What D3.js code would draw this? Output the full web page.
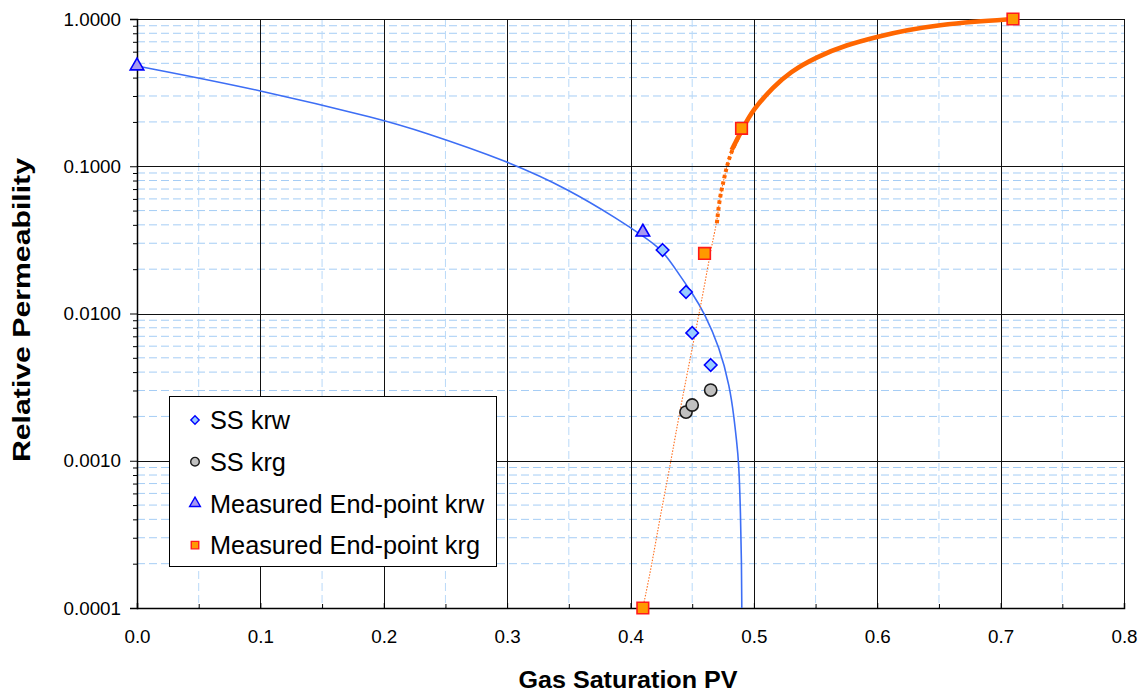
<!DOCTYPE html>
<html>
<head>
<meta charset="utf-8">
<script src="https://cdn.jsdelivr.net/npm/d3@7"></script>
<style>
  html, body { margin: 0; padding: 0; background: #fff; }
  svg { display: block; font-family: "Liberation Sans", Arial, sans-serif; }
</style>
</head>
<body>
<svg id="chart" width="1141" height="692"></svg>
<script>
// Steady-state relative permeability data (gas saturation as fraction of PV)
const ssKrwSg = [0.426, 0.445, 0.450, 0.465];
const ssKrw   = [0.0270, 0.0140, 0.00738, 0.00447];

const ssKrgSg = [0.445, 0.450, 0.465];
const ssKrg   = [0.00214, 0.00239, 0.00302];

const epKrwSg = [0.000, 0.410];
const epKrw   = [0.480, 0.0357];

const epKrgSg = [0.410, 0.460, 0.490, 0.710];
const epKrg   = [0.0001, 0.0256, 0.181, 1.0];

// Fitted water curve
const krwFitSg = [0.000, 0.100, 0.200, 0.229, 0.300, 0.350, 0.391, 0.410, 0.426, 0.437, 0.451, 0.460, 0.472, 0.4805, 0.484, 0.4859, 0.4878, 0.4892, 0.4900, 0.4902];
const krwFit   = [0.480, 0.330, 0.206, 0.174, 0.109, 0.0697, 0.0431, 0.0337, 0.0270, 0.0197, 0.0134, 0.0100, 0.00595, 0.00318, 0.00194, 0.00138, 0.000986, 0.00044, 0.000202, 0.0001];

// Fitted gas curve
const krgFitSg = [0.410, 0.417, 0.424, 0.432, 0.441, 0.459, 0.466, 0.470, 0.472, 0.475, 0.478, 0.482, 0.491, 0.499, 0.516, 0.529, 0.551, 0.575, 0.600, 0.624, 0.651, 0.678, 0.710];
const krgFit   = [0.0001, 0.000191, 0.000417, 0.000911, 0.00245, 0.0137, 0.030, 0.041, 0.059, 0.0766, 0.0993, 0.129, 0.181, 0.241, 0.347, 0.435, 0.555, 0.666, 0.758, 0.842, 0.911, 0.959, 1.0];

const xTicks = [0, 0.1, 0.2, 0.3, 0.4, 0.5, 0.6, 0.7, 0.8];
const yTicks = [1, 0.1, 0.01, 0.001, 0.0001];
const yTickLabels = ["1.0000", "0.1000", "0.0100", "0.0010", "0.0001"];

const legendLabels = ["SS krw", "SS krg", "Measured End-point krw", "Measured End-point krg"];

const svg = d3.select("#chart");
const plot = { left: 137, right: 1124, top: 19, bottom: 608 };

const x = d3.scaleLinear().domain([0, 0.8]).range([plot.left, plot.right]);
const y = d3.scaleLog().domain([0.0001, 1]).range([plot.bottom, plot.top]);

const zip = (a, b) => a.map((v, i) => [v, b[i]]);

// Minor values
const xMinor = d3.range(0.05, 0.8, 0.1);
const yMinor = [];
[0.0001, 0.001, 0.01, 0.1].forEach(d => { for (let k = 2; k <= 9; k++) yMinor.push(d * k); });

const grid = svg.append("g");
// minor dashed grid
grid.selectAll("line.hmin").data(yMinor).join("line")
  .attr("x1", plot.left).attr("x2", plot.right)
  .attr("y1", d => y(d)).attr("y2", d => y(d))
  .attr("stroke", "#a5cdf5").attr("stroke-width", 1).attr("stroke-dasharray", "8,4");
grid.selectAll("line.vmin").data(xMinor).join("line")
  .attr("x1", d => x(d)).attr("x2", d => x(d))
  .attr("y1", plot.top).attr("y2", plot.bottom)
  .attr("stroke", "#b9d9f8").attr("stroke-width", 1).attr("stroke-dasharray", "8,4");
// major grid
grid.selectAll("line.hmaj").data(yTicks.slice(0, 4)).join("line")
  .attr("x1", plot.left).attr("x2", plot.right)
  .attr("y1", d => Math.round(y(d)) + 0.5).attr("y2", d => Math.round(y(d)) + 0.5)
  .attr("stroke", "#111").attr("stroke-width", 1);
grid.selectAll("line.vmaj").data(xTicks.slice(1)).join("line")
  .attr("x1", d => Math.round(x(d)) + 0.5).attr("x2", d => Math.round(x(d)) + 0.5)
  .attr("y1", plot.top).attr("y2", plot.bottom)
  .attr("stroke", "#111").attr("stroke-width", 1);

// Axes
const yAxis = d3.axisLeft(y).tickValues(yTicks).tickSize(7)
  .tickFormat((d, i) => yTickLabels[i]).tickPadding(9);
const gy = svg.append("g").attr("transform", `translate(${plot.left},0)`).call(yAxis);
gy.select(".domain").attr("stroke", "#000").attr("stroke-width", 1.5);
gy.selectAll(".tick line").attr("stroke", "#000");
gy.selectAll(".tick text").attr("font-size", 18.8).attr("font-family", "Liberation Sans, Arial, sans-serif").attr("fill", "#000");
svg.append("g").attr("transform", `translate(${plot.left},0)`)
  .call(d3.axisLeft(y).tickValues(yMinor).tickSize(4).tickFormat(""))
  .call(g => g.select(".domain").remove())
  .selectAll(".tick line").attr("stroke", "#000");

const xAxis = d3.axisBottom(x).tickValues(xTicks).tickSize(-5)
  .tickFormat(d3.format(".1f")).tickPadding(22);
const gx = svg.append("g").attr("transform", `translate(0,${plot.bottom})`).call(xAxis);
gx.select(".domain").attr("stroke", "#000").attr("stroke-width", 1.5);
gx.selectAll(".tick line").attr("stroke", "#000");
gx.selectAll(".tick text").attr("font-size", 18.8).attr("font-family", "Liberation Sans, Arial, sans-serif").attr("fill", "#000");
svg.append("g").attr("transform", `translate(0,${plot.bottom})`)
  .call(d3.axisBottom(x).tickValues(xMinor).tickSize(-4).tickFormat(""))
  .call(g => g.select(".domain").remove())
  .selectAll(".tick line").attr("stroke", "#000");

// Axis titles
svg.append("text").attr("x", 628).attr("y", 688)
  .attr("text-anchor", "middle").attr("font-weight", "bold").attr("font-size", 23)
  .attr("textLength", 219).attr("lengthAdjust", "spacingAndGlyphs")
  .text("Gas Saturation PV");
svg.append("text").attr("transform", `translate(30,310) rotate(-90)`)
  .attr("text-anchor", "middle").attr("font-weight", "bold").attr("font-size", 23)
  .attr("textLength", 304).attr("lengthAdjust", "spacingAndGlyphs")
  .text("Relative Permeability");

// Curves
svg.append("clipPath").attr("id", "plotclip").append("rect")
  .attr("x", plot.left).attr("y", plot.top - 3)
  .attr("width", plot.right - plot.left).attr("height", plot.bottom - plot.top + 3);
const curves = svg.append("g").attr("clip-path", "url(#plotclip)");
const line = d3.line().x(d => x(d[0])).y(d => y(d[1])).curve(d3.curveBasis);

curves.append("path").datum(zip(krwFitSg, krwFit)).attr("d", line)
  .attr("fill", "none").attr("stroke", "#3d6ef5").attr("stroke-width", 1.6);

const krgPts = zip(krgFitSg, krgFit);
curves.append("path").datum(krgPts).attr("d", line)
  .attr("fill", "none").attr("stroke", "#ff7020").attr("stroke-width", 1.1)
  .attr("stroke-dasharray", "1.5,1.5");
curves.append("path").datum(krgPts.filter(d => d[0] >= 0.470 && d[0] <= 0.491)).attr("d", line)
  .attr("fill", "none").attr("stroke", "#ff6600").attr("stroke-width", 4)
  .attr("stroke-dasharray", "3.5,3");
curves.append("path").datum(krgPts.filter(d => d[0] >= 0.482)).attr("d", line)
  .attr("fill", "none").attr("stroke", "#ff6600").attr("stroke-width", 4.6);

// Marker shapes
const sym = (type, size) => d3.symbol().type(type).size(size)();
const styles = [
  { shape: d3.symbolDiamond2, fill: "#99ccff", stroke: "#0000ff", size: 100, lsize: 44 },
  { shape: d3.symbolCircle,   fill: "#c0c0c0", stroke: "#1a1a1a", size: 118, lsize: 58 },
  { shape: d3.symbolTriangle, fill: "#a899f0", stroke: "#0000ff", size: 80, lsize: 50 },
  { shape: d3.symbolSquare,   fill: "#ff9900", stroke: "#ff1a1a", size: 135, lsize: 56 }
];

function drawPoints(xs, ys, st) {
  svg.append("g").selectAll("path").data(zip(xs, ys)).join("path")
    .attr("transform", d => `translate(${x(d[0])},${y(d[1])})`)
    .attr("d", sym(st.shape, st.size))
    .attr("fill", st.fill).attr("stroke", st.stroke).attr("stroke-width", 1.6);
}
drawPoints(ssKrwSg, ssKrw, styles[0]);
drawPoints(ssKrgSg, ssKrg, styles[1]);
drawPoints(epKrwSg, epKrw, styles[2]);
drawPoints(epKrgSg, epKrg, styles[3]);

// Legend
const lg = svg.append("g");
lg.append("rect").attr("x", 169.5).attr("y", 396.5).attr("width", 327).attr("height", 170)
  .attr("fill", "#fff").attr("stroke", "#000").attr("stroke-width", 1);
const rows = lg.selectAll("g.row").data(legendLabels).join("g")
  .attr("transform", (d, i) => `translate(0,${420 + i * 41.7})`);
rows.append("path").attr("transform", "translate(195,0)")
  .attr("d", (d, i) => sym(styles[i].shape, styles[i].lsize))
  .attr("fill", (d, i) => styles[i].fill).attr("stroke", (d, i) => styles[i].stroke)
  .attr("stroke-width", 1.4);
rows.append("text").attr("x", 210).attr("dy", "0.36em")
  .attr("font-size", 25.3).text(d => d);
</script>
</body>
</html>
